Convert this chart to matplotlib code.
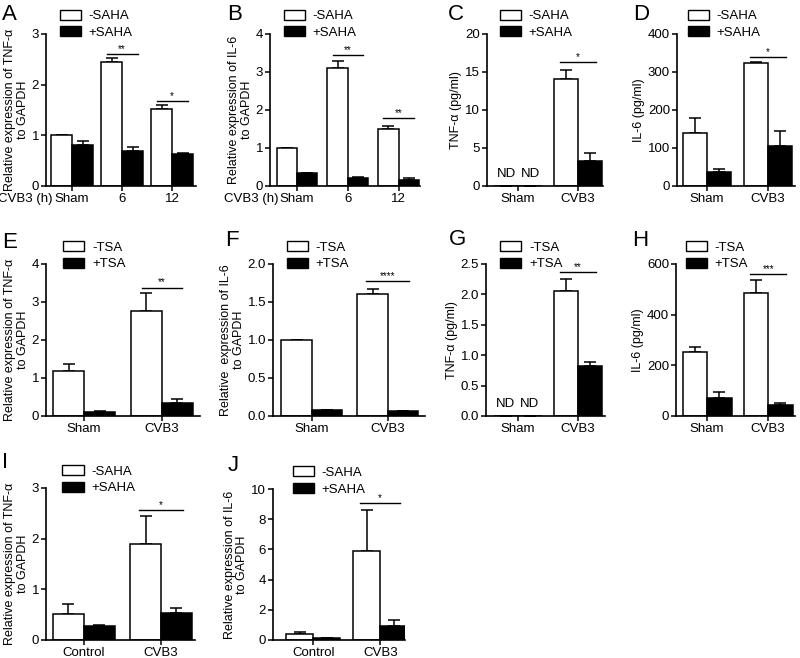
import matplotlib
matplotlib.use("Agg")
import matplotlib.pyplot as plt

plt.rcParams['font.family'] = ['Liberation Sans', 'DejaVu Sans']
plt.rcParams['font.size'] = 9.5

# ---- data ----
# A: TNF-a mRNA, SAHA, time course
a_cats = ['Sham', '6', '12']
a_minus = [1.0, 2.45, 1.51]
a_minus_err = [0.0, 0.07, 0.08]
a_plus = [0.81, 0.69, 0.63]
a_plus_err = [0.07, 0.07, 0.02]
a_sig = [(1, 2.6, '**'), (2, 1.68, '*')]

# B: IL-6 mRNA, SAHA, time course
b_cats = ['Sham', '6', '12']
b_minus = [1.0, 3.1, 1.5]
b_minus_err = [0.0, 0.19, 0.09]
b_plus = [0.33, 0.21, 0.17]
b_plus_err = [0.0, 0.03, 0.03]
b_sig = [(1, 3.44, '**'), (2, 1.79, '**')]

# C: TNF-a protein, SAHA
c_cats = ['Sham', 'CVB3']
c_minus = [0, 14.1]
c_minus_err = [0, 1.1]
c_plus = [0, 3.3]
c_plus_err = [0, 1.1]
c_sig = [(1, 16.3, '*')]

# D: IL-6 protein, SAHA
d_cats = ['Sham', 'CVB3']
d_minus = [139, 323]
d_minus_err = [40, 3]
d_plus = [37, 106]
d_plus_err = [9, 39]
d_sig = [(1, 339, '*')]

# E: TNF-a mRNA, TSA
e_cats = ['Sham', 'CVB3']
e_minus = [1.19, 2.77]
e_minus_err = [0.18, 0.46]
e_plus = [0.11, 0.35]
e_plus_err = [0.03, 0.09]
e_sig = [(1, 3.38, '**')]

# F: IL-6 mRNA, TSA
f_cats = ['Sham', 'CVB3']
f_minus = [1.0, 1.6]
f_minus_err = [0.0, 0.07]
f_plus = [0.075, 0.066]
f_plus_err = [0.0, 0.005]
f_sig = [(1, 1.77, '****')]

# G: TNF-a protein, TSA
g_cats = ['Sham', 'CVB3']
g_minus = [0, 2.06]
g_minus_err = [0, 0.2]
g_plus = [0, 0.82]
g_plus_err = [0, 0.07]
g_sig = [(1, 2.37, '**')]

# H: IL-6 protein, TSA
h_cats = ['Sham', 'CVB3']
h_minus = [252, 487]
h_minus_err = [20, 49]
h_plus = [72, 42]
h_plus_err = [23, 9]
h_sig = [(1, 561, '***')]

# I: TNF-a mRNA, SAHA, control vs CVB3
i_cats = ['Control', 'CVB3']
i_minus = [0.52, 1.89]
i_minus_err = [0.2, 0.55]
i_plus = [0.27, 0.54]
i_plus_err = [0.02, 0.1]
i_sig = [(1, 2.57, '*')]

# J: IL-6 mRNA, SAHA, control vs CVB3
j_cats = ['Control', 'CVB3']
j_minus = [0.38, 5.9]
j_minus_err = [0.15, 2.7]
j_plus = [0.12, 0.92]
j_plus_err = [0.02, 0.38]
j_sig = [(1, 9.05, '*')]

W, H = 800, 658
fig = plt.figure(figsize=(W / 100, H / 100), dpi=100)


def px_axes(x0, x1, ytop, ybot):
    return fig.add_axes([x0 / W, 1 - ybot / H, (x1 - x0) / W, (ybot - ytop) / H])


def panel(box, cats, minus, minus_err, plus, plus_err, sig, drug, ylab, ylim,
          yticks, xlim, letter, letter_xy, leg_x, w=0.4, nd=False,
          yfmt=None, tlen=0.27, cvb_x=None, leg_y=1.15):
    ax = px_axes(*box)
    xs = list(range(len(cats)))
    xm = [x - w / 2 for x in xs]
    xp = [x + w / 2 for x in xs]
    ax.bar(xm, minus, w, color='white', edgecolor='black', linewidth=1.1,
           zorder=2)
    ax.errorbar(xm, minus, yerr=[[0] * len(xs), minus_err], fmt='none',
                ecolor='black', elinewidth=1.1, capsize=4, capthick=1.1,
                zorder=1)
    ax.bar(xp, plus, w, color='black', edgecolor='black', linewidth=1.1,
           zorder=2)
    ax.errorbar(xp, plus, yerr=[[0] * len(xs), plus_err], fmt='none',
                ecolor='black', elinewidth=1.1, capsize=4, capthick=1.1,
                zorder=1)
    for gx, gy, stars in sig:
        ax.plot([gx - tlen, gx + tlen], [gy, gy], color='black', lw=1,
                clip_on=False)
        ax.text(gx, gy, stars, ha='center', va='bottom', fontsize=7)
    if nd:
        for x in [-0.2, 0.2]:
            ax.text(x, ylim[1] * 0.04, 'ND', ha='center', va='bottom',
                    fontsize=9.5)
    ax.set_xlim(*xlim)
    ax.set_ylim(*ylim)
    ax.set_yticks(yticks)
    if yfmt:
        ax.set_yticklabels([yfmt.format(t) for t in yticks])
    ax.set_xticks(xs)
    ax.set_xticklabels(cats)
    for s in ['top', 'right']:
        ax.spines[s].set_visible(False)
    for s in ['left', 'bottom']:
        ax.spines[s].set_linewidth(1.2)
    ax.tick_params(axis='both', direction='out', length=3.5, width=1.1,
                   labelsize=9.5, pad=1.5)
    ax.set_ylabel(ylab, fontsize=9, labelpad=2, linespacing=1.1)
    if cvb_x is not None:
        # x-axis title sits to the left of the first category label
        fig.text(cvb_x / W, 1 - (box[3] + 7) / H, 'CVB3 (h)', ha='right',
                 va='top', fontsize=9.5)
    h1 = plt.Rectangle((0, 0), 1, 1, facecolor='white', edgecolor='black',
                       linewidth=1)
    h2 = plt.Rectangle((0, 0), 1, 1, facecolor='black', edgecolor='black',
                       linewidth=1)
    ax.legend([h1, h2], ['-' + drug, '+' + drug], loc='upper left',
              bbox_to_anchor=(leg_x, leg_y), frameon=False, fontsize=9.5,
              handlelength=1.6, handleheight=0.8, labelspacing=0.3,
              handletextpad=0.6, borderaxespad=0, borderpad=0)
    fig.text(letter_xy[0] / W, 1 - letter_xy[1] / H, letter, fontsize=16,
             ha='left', va='top')
    return ax


tnf_rel = 'Relative expression of TNF-\u03b1\nto GAPDH'
il6_rel = 'Relative expression of IL-6\nto GAPDH'

panel((46, 196, 34, 186), a_cats, a_minus, a_minus_err, a_plus, a_plus_err,
      a_sig, 'SAHA', tnf_rel, (0, 3), [0, 1, 2, 3], (-0.52, 2.48), 'A',
      (2, 4), 0.09, w=0.42, tlen=0.31, cvb_x=53, leg_y=1.16)
panel((270, 420, 34, 186), b_cats, b_minus, b_minus_err, b_plus, b_plus_err,
      b_sig, 'SAHA', il6_rel, (0, 4), [0, 1, 2, 3, 4], (-0.53, 2.42), 'B',
      (227, 4), 0.09, w=0.4, tlen=0.3, cvb_x=279, leg_y=1.16)
panel((487, 603, 34, 186), c_cats, c_minus, c_minus_err, c_plus, c_plus_err,
      c_sig, 'SAHA', 'TNF-\u03b1 (pg/ml)', (0, 20), [0, 5, 10, 15, 20],
      (-0.52, 1.42), 'C', (448, 4), 0.11, nd=True, tlen=0.3, leg_y=1.16)
panel((677, 795, 34, 186), d_cats, d_minus, d_minus_err, d_plus, d_plus_err,
      d_sig, 'SAHA', 'IL-6 (pg/ml)', (0, 400), [0, 100, 200, 300, 400],
      (-0.49, 1.44), 'D', (633, 4), 0.09, w=0.39, tlen=0.3, leg_y=1.16)

panel((46, 200, 264, 416), e_cats, e_minus, e_minus_err, e_plus, e_plus_err,
      e_sig, 'TSA', tnf_rel, (0, 4), [0, 1, 2, 3, 4], (-0.49, 1.49), 'E',
      (2, 232), 0.11, tlen=0.26)
panel((273, 425, 264, 416), f_cats, f_minus, f_minus_err, f_plus, f_plus_err,
      f_sig, 'TSA', 'Relative  expression of IL-6\nto GAPDH', (0, 2.0),
      [0, 0.5, 1.0, 1.5, 2.0], (-0.51, 1.49), 'F', (225, 230), 0.09,
      yfmt='{:.1f}', tlen=0.28)
panel((486, 605, 264, 416), g_cats, g_minus, g_minus_err, g_plus, g_plus_err,
      g_sig, 'TSA', 'TNF-\u03b1 (pg/ml)', (0, 2.5),
      [0, 0.5, 1.0, 1.5, 2.0, 2.5], (-0.53, 1.45), 'G', (449, 229), 0.12,
      nd=True, yfmt='{:.1f}', tlen=0.3)
panel((676, 795, 264, 416), h_cats, h_minus, h_minus_err, h_plus, h_plus_err,
      h_sig, 'TSA', 'IL-6 (pg/ml)', (0, 600), [0, 200, 400, 600],
      (-0.51, 1.44), 'H', (632, 230), 0.08, tlen=0.3)

panel((46, 195, 488, 640), i_cats, i_minus, i_minus_err, i_plus, i_plus_err,
      i_sig, 'SAHA', tnf_rel, (0, 3), [0, 1, 2, 3], (-0.49, 1.44), 'I',
      (2, 452), 0.11, tlen=0.28)
panel((273, 405, 489, 640), j_cats, j_minus, j_minus_err, j_plus, j_plus_err,
      j_sig, 'SAHA', il6_rel, (0, 10), [0, 2, 4, 6, 8, 10], (-0.6, 1.37),
      'J', (228, 455), 0.15, tlen=0.3)

fig.savefig('out.png', dpi=100)
